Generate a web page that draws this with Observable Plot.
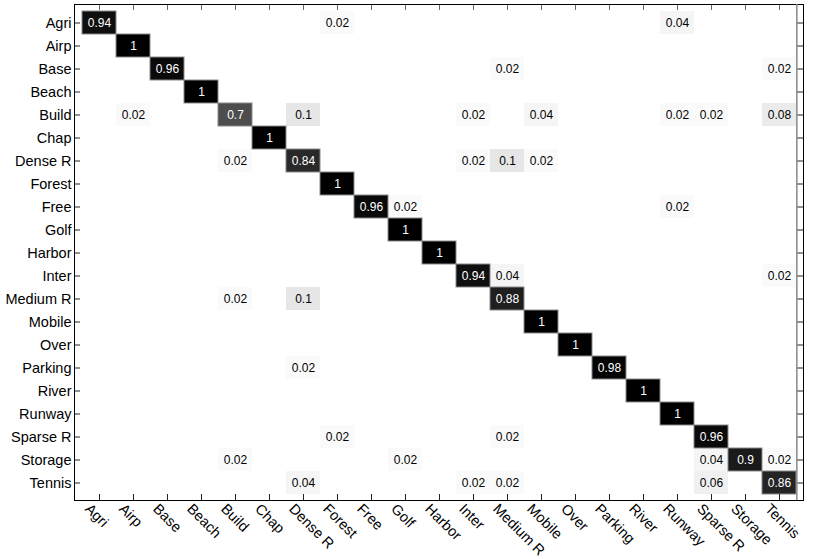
<!DOCTYPE html>
<html>
<head>
<meta charset="utf-8">
<script src="https://cdn.jsdelivr.net/npm/d3@7"></script>
<script src="https://cdn.jsdelivr.net/npm/@observablehq/plot@0.6"></script>
<style>
  html, body { margin: 0; padding: 0; background: #fff; }
  #chart { width: 830px; height: 559px; }
</style>
</head>
<body>
<div id="chart"></div>
<script>
// Class labels (rows = true class, columns = predicted class)
const classes = ["Agri","Airp","Base","Beach","Build","Chap","Dense R","Forest","Free","Golf","Harbor","Inter","Medium R","Mobile","Over","Parking","River","Runway","Sparse R","Storage","Tennis"];

// Non-zero entries of the confusion matrix
const trueClass = [
  "Agri","Agri","Agri",
  "Airp",
  "Base","Base","Base",
  "Beach",
  "Build","Build","Build","Build","Build","Build","Build","Build",
  "Chap",
  "Dense R","Dense R","Dense R","Dense R","Dense R",
  "Forest",
  "Free","Free","Free",
  "Golf",
  "Harbor",
  "Inter","Inter","Inter",
  "Medium R","Medium R","Medium R",
  "Mobile",
  "Over",
  "Parking","Parking",
  "River",
  "Runway",
  "Sparse R","Sparse R","Sparse R",
  "Storage","Storage","Storage","Storage","Storage",
  "Tennis","Tennis","Tennis","Tennis","Tennis"
];
const predClass = [
  "Agri","Forest","Runway",
  "Airp",
  "Base","Medium R","Tennis",
  "Beach",
  "Airp","Build","Dense R","Inter","Mobile","Runway","Sparse R","Tennis",
  "Chap",
  "Build","Dense R","Inter","Medium R","Mobile",
  "Forest",
  "Free","Golf","Runway",
  "Golf",
  "Harbor",
  "Inter","Medium R","Tennis",
  "Build","Dense R","Medium R",
  "Mobile",
  "Over",
  "Dense R","Parking",
  "River",
  "Runway",
  "Forest","Medium R","Sparse R",
  "Build","Golf","Sparse R","Storage","Tennis",
  "Dense R","Inter","Medium R","Sparse R","Tennis"
];
const values = [
  0.94,0.02,0.04,
  1,
  0.96,0.02,0.02,
  1,
  0.02,0.7,0.1,0.02,0.04,0.02,0.02,0.08,
  1,
  0.02,0.84,0.02,0.1,0.02,
  1,
  0.96,0.02,0.02,
  1,
  1,
  0.94,0.04,0.02,
  0.02,0.1,0.88,
  1,
  1,
  0.02,0.98,
  1,
  1,
  0.02,0.02,0.96,
  0.02,0.02,0.04,0.9,0.02,
  0.04,0.02,0.02,0.06,0.86
];

const cells = values.map((v, i) => ({t: trueClass[i], p: predClass[i], v}));
const dark = cells.filter(d => d.v > 0.5);

const W = 830, H = 559;
const mL = 74, mR = 27, mT = 4, mB = 59;
const pw = W - mL - mR, ph = H - mT - mB;
const tick = 6;
const bw = pw / classes.length;

const plot = Plot.plot({
  width: W,
  height: H,
  marginLeft: mL,
  marginRight: mR,
  marginTop: mT,
  marginBottom: mB,
  style: {fontFamily: "'Liberation Sans', Arial, Helvetica, sans-serif", background: "#fff", color: "#000"},
  x: {type: "band", domain: classes, padding: 0, label: null},
  y: {type: "band", domain: classes, padding: 0, label: null},
  color: {type: "linear", domain: [0, 1], range: ["#ffffff", "#000000"]},
  marks: [
    Plot.cell(cells, {x: "p", y: "t", fill: "v"}),
    Plot.cell(dark, {x: "p", y: "t", fill: "v", stroke: "#8a8a8a", strokeWidth: 1}),
    Plot.text(cells, {x: "p", y: "t", text: d => String(d.v), fill: d => d.v > 0.5 ? "white" : "black", fontSize: 12}),
    // inward ticks on all four sides
    Plot.tickX(classes, {x: d => d, insetTop: ph - tick, stroke: "#222"}),
    Plot.tickX(classes, {x: d => d, insetBottom: ph - tick, stroke: "#666"}),
    Plot.tickY(classes, {y: d => d, insetRight: pw - tick, stroke: "#222"}),
    Plot.tickY(classes, {y: d => d, insetLeft: pw - tick, stroke: "#222"}),
    Plot.frame({stroke: "#000"}),
    Plot.tickX([classes[classes.length - 1]], {x: d => d, dx: bw / 2, stroke: "#888", strokeWidth: 1.5}),
    Plot.axisY({anchor: "left", tickSize: 0, tickPadding: 3, fontSize: 14.5, label: null}),
    Plot.axisX({anchor: "bottom", tickSize: 0, tickPadding: 6, tickRotate: 45, fontSize: 14.5, dx: -12, label: null})
  ]
});
document.getElementById("chart").appendChild(plot);
</script>
</body>
</html>
